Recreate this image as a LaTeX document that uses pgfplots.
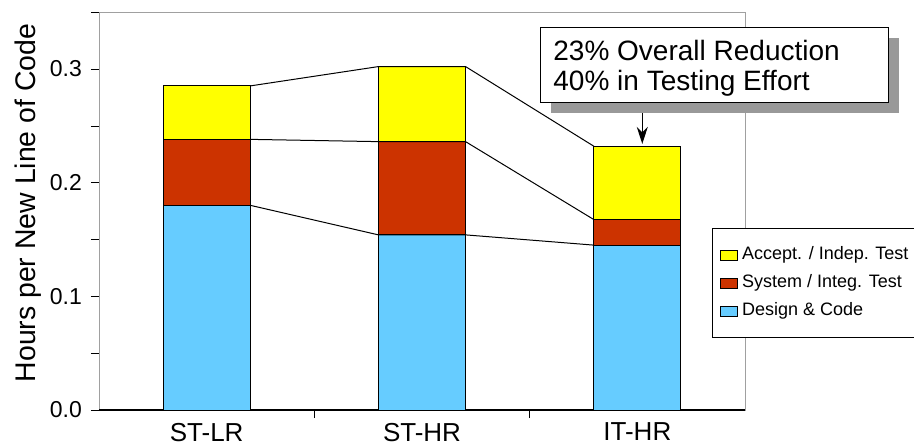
\documentclass[border=0pt]{standalone}
\usepackage{pgfplots}
\pgfplotsset{compat=1.18}
\usepackage{fontspec}
\setmainfont{Liberation Sans}
\usetikzlibrary{shadows,arrows.meta}
\definecolor{accept}{HTML}{FFFF00}
\definecolor{system}{HTML}{CC3300}
\definecolor{design}{HTML}{66CCFF}
\definecolor{spine}{HTML}{A0A0A0}
\begin{document}
\begin{tikzpicture}
\useasboundingbox (-49.5pt,-17pt) rectangle (407.5pt,205pt);
\pgfplotsset{
  common/.style={
    width=323pt, height=199pt, scale only axis,
    xmin=-0.5, xmax=2.5, ymin=0, ymax=0.35,
  }
}
\begin{axis}[
  common,
  ybar stacked, bar width=0.405,
  axis line style={draw=spine},
  xtick={0,1,2}, xticklabels={ST-LR,ST-HR,IT-HR},
  major x tick style={draw=none},
  minor xtick={0.5,1.5},
  minor x tick style={draw=black},
  ytick={0,0.1,0.2,0.3},
  minor ytick={0.05,0.15,0.25,0.35},
  tick style={black},
  tick pos=left,
  tick align=outside,
  major tick length=4pt, minor tick length=4pt,
  yticklabel style={/pgf/number format/fixed, /pgf/number format/fixed zerofill, /pgf/number format/precision=1, /pgf/number format/assume math mode=true, font=\fontsize{11.5}{13}\selectfont, xshift=-1pt},
  xticklabel style={font=\fontsize{13}{15}\selectfont, yshift=1pt},
  ylabel={Hours per New Line of Code},
  every axis y label/.style={at={(axis description cs:0,0.52)}, rotate=90, anchor=center, yshift=35.5pt, font=\fontsize{14.2}{16}\selectfont},
  legend image code/.code={\draw[#1] (0pt,-2.5pt) rectangle (8.5pt,2.5pt);},
  reverse legend,
  legend cell align=left,
  legend style={at={(0.949,0.457)}, anchor=north west, draw=black, fill=white,
    font=\fontsize{9}{11}\selectfont, inner xsep=4pt, inner ysep=9pt,
    row sep=5.5pt,
    nodes={inner ysep=0pt, inner xsep=1.8pt, text height=6.5pt, text depth=2pt}},
  clip=false,
]
\addplot[fill=design, draw=black, line width=0.5pt] coordinates {(0,0.180) (1,0.154) (2,0.145)};
\addlegendentry{Design \& Code}
\addplot[fill=system, draw=black, line width=0.5pt] coordinates {(0,0.058) (1,0.082) (2,0.0225)};
\addlegendentry{System / Integ. Test}
\addplot[fill=accept, draw=black, line width=0.5pt] coordinates {(0,0.047) (1,0.066) (2,0.0645)};
\addlegendentry{Accept. / Indep. Test}
\draw[black, line width=0.6pt] (rel axis cs:0,0) -- (rel axis cs:1,0);
\draw[line width=0.6pt, -{Stealth[length=8.5pt,width=5.5pt]}] (axis cs:2.023,0.262) -- (axis cs:2.023,0.234);
\end{axis}
\begin{axis}[common, hide axis]
\addplot[black, line width=0.5pt, mark=none] coordinates {(0.2023,0.285) (0.7977,0.302) (1.2023,0.302) (1.7977,0.232)};
\addplot[black, line width=0.5pt, mark=none] coordinates {(0.2023,0.238) (0.7977,0.236) (1.2023,0.236) (1.7977,0.1675)};
\addplot[black, line width=0.5pt, mark=none] coordinates {(0.2023,0.180) (0.7977,0.154) (1.2023,0.154) (1.7977,0.145)};
\end{axis}
\node[draw=black, line width=0.6pt, fill=white, minimum width=174pt, minimum height=37.5pt, anchor=north west, inner sep=0pt,
  drop shadow={shadow xshift=5pt, shadow yshift=-5pt, fill=black!40, opacity=1}] at (220.5pt,191.5pt) {};
\node[anchor=base west, inner sep=0pt, font=\fontsize{14}{15}\selectfont] at (227pt,174.5pt) {23\% Overall Reduction};
\node[anchor=base west, inner sep=0pt, font=\fontsize{14}{15}\selectfont] at (227pt,159.5pt) {40\% in Testing Effort};
\end{tikzpicture}
\end{document}
